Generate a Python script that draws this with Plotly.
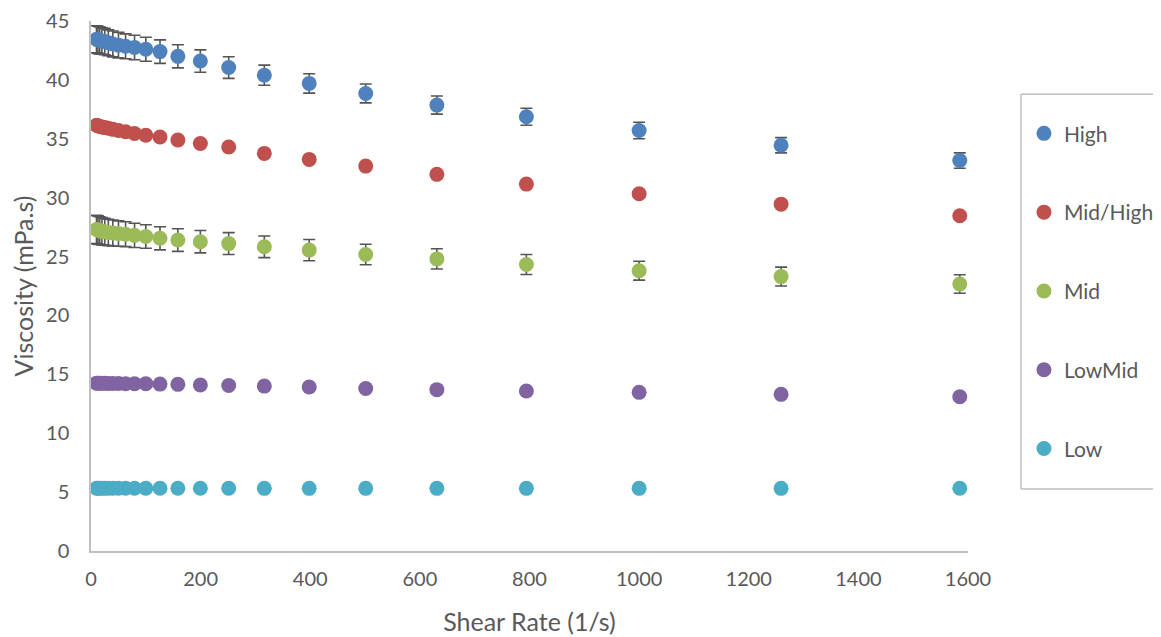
import plotly.graph_objects as go

shear_rate = [10, 12.59, 15.85, 19.95, 25.12, 31.62, 39.81, 50.12, 63.1, 79.43,
              100, 125.9, 158.5, 199.5, 251.2, 316.2, 398.1, 501.2, 631, 794.3,
              1000, 1259, 1585]

high = [43.45, 43.4, 43.35, 43.3, 43.25, 43.15, 43.05, 42.95, 42.85, 42.75,
        42.6, 42.4, 42.0, 41.6, 41.05, 40.4, 39.7, 38.85, 37.86, 36.87,
        35.7, 34.45, 33.15]
high_err = [1.15, 1.15, 1.15, 1.12, 1.12, 1.1, 1.1, 1.08, 1.06, 1.04,
            1.02, 1.0, 0.98, 0.95, 0.92, 0.85, 0.82, 0.8, 0.77, 0.72,
            0.7, 0.65, 0.65]

mid_high = [36.15, 36.1, 36.05, 36.0, 35.95, 35.9, 35.8, 35.7, 35.6, 35.45,
            35.3, 35.15, 34.9, 34.6, 34.3, 33.76, 33.25, 32.68, 31.98, 31.15,
            30.33, 29.45, 28.47]

mid = [27.3, 27.25, 27.2, 27.15, 27.1, 27.05, 27.0, 26.95, 26.9, 26.8,
       26.7, 26.55, 26.4, 26.26, 26.1, 25.83, 25.55, 25.18, 24.8, 24.33,
       23.8, 23.3, 22.67]
mid_err = [1.2, 1.2, 1.18, 1.16, 1.14, 1.12, 1.1, 1.08, 1.06, 1.03,
           1.0, 0.98, 0.96, 0.95, 0.93, 0.92, 0.9, 0.87, 0.86, 0.85,
           0.8, 0.8, 0.78]

low_mid = [14.25, 14.25, 14.25, 14.24, 14.24, 14.23, 14.23, 14.22, 14.21, 14.2,
           14.2, 14.17, 14.15, 14.1, 14.05, 14.0, 13.92, 13.8, 13.7, 13.58,
           13.47, 13.3, 13.1]

low = [5.33, 5.33, 5.33, 5.33, 5.33, 5.33, 5.33, 5.33, 5.33, 5.33,
       5.33, 5.33, 5.33, 5.33, 5.33, 5.32, 5.32, 5.32, 5.32, 5.32,
       5.32, 5.32, 5.33]

series_names = ["High", "Mid/High", "Mid", "LowMid", "Low"]
series_colors = ["#4F81BD", "#C0504D", "#9BBB59", "#8064A2", "#4BACC6"]
series_values = [high, mid_high, mid, low_mid, low]
series_errors = [high_err, None, mid_err, None, None]

x_ticks = [0, 200, 400, 600, 800, 1000, 1200, 1400, 1600]
y_ticks = [0, 5, 10, 15, 20, 25, 30, 35, 40, 45]

FONT = "Lato, 'Open Sans', sans-serif"
GRAY = "#595959"
BOX = "#BFBFBF"

fig = go.Figure()
for name, color, vals, err in zip(series_names, series_colors, series_values, series_errors):
    kw = {}
    if err is not None:
        kw["error_y"] = dict(type="data", array=err, visible=True,
                             color="#555555", thickness=1.6, width=6)
    fig.add_trace(go.Scatter(
        x=shear_rate, y=vals, mode="markers", name=name, legendgroup=name,
        marker=dict(color=color, size=15, line=dict(width=0)),
        **kw))

# legend frame (right side runs off the image in the reference)
bx0, bx1, by0, by1 = 1.0604, 1.30, 0.117, 0.862
frame = [
    dict(type="line", xref="paper", yref="paper", x0=bx0, x1=bx1, y0=by1, y1=by1),
    dict(type="line", xref="paper", yref="paper", x0=bx0, x1=bx0, y0=by0, y1=by1),
    dict(type="line", xref="paper", yref="paper", x0=bx0, x1=bx1, y0=by0, y1=by0),
]
for s in frame:
    s["line"] = dict(color=BOX, width=1.5)

fig.update_layout(
    width=1161, height=637,
    paper_bgcolor="white", plot_bgcolor="white",
    margin=dict(l=83, r=201, t=13, b=94, autoexpand=False),
    font=dict(family=FONT, size=20, color=GRAY),
    showlegend=True,
    legend=dict(x=1.0638, xanchor="left", y=0.826, yanchor="top",
                bgcolor="rgba(0,0,0,0)", borderwidth=0,
                tracegroupgap=48.5, itemwidth=30,
                font=dict(family=FONT, size=21, color=GRAY)),
    shapes=frame,
)

fig.update_xaxes(
    range=[0, 1600], tickvals=x_ticks, showgrid=False, zeroline=False,
    showline=True, linecolor=BOX, linewidth=1.5, ticks="",
    ticklabelstandoff=9,
    tickfont=dict(family=FONT, size=20, color=GRAY),
    title=dict(text="Shear Rate (1/s)", font=dict(family=FONT, size=25, color=GRAY), standoff=25),
)
fig.update_yaxes(
    range=[0, 45], tickvals=y_ticks, showgrid=False, zeroline=False,
    showline=True, linecolor=BOX, linewidth=1.5, ticks="",
    ticklabelstandoff=16,
    tickfont=dict(family=FONT, size=20, color=GRAY),
    title=dict(text="Viscosity (mPa.s)", font=dict(family=FONT, size=25, color=GRAY), standoff=10),
)

fig.write_html("out.html")
